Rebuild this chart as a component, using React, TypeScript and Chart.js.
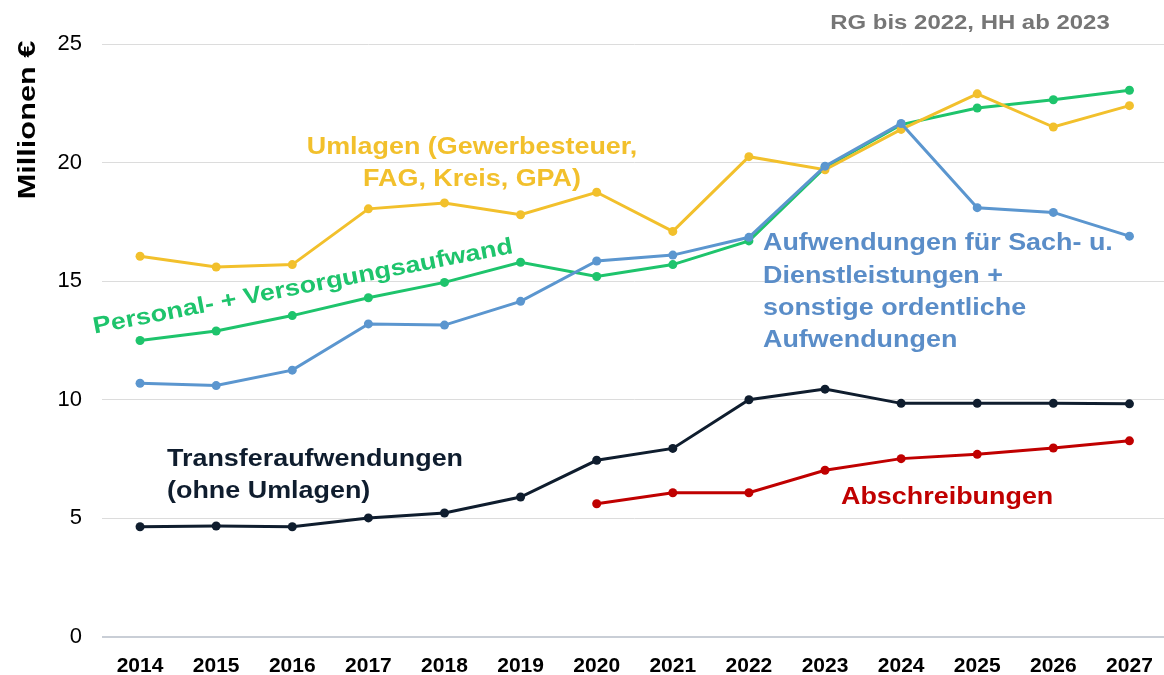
import React, { useEffect, useRef } from "react";
import { Chart, registerables } from "chart.js";

Chart.register(...registerables);

const years = ["2014", "2015", "2016", "2017", "2018", "2019", "2020", "2021", "2022", "2023", "2024", "2025", "2026", "2027"];
const umlagen = [16.05, 15.6, 15.7, 18.05, 18.3, 17.8, 18.75, 17.1, 20.25, 19.7, 21.4, 22.9, 21.5, 22.4];
const personal = [12.5, 12.9, 13.55, 14.3, 14.95, 15.8, 15.2, 15.7, 16.7, 19.8, 21.6, 22.3, 22.65, 23.05];
const sachaufwand = [10.7, 10.6, 11.25, 13.2, 13.15, 14.15, 15.85, 16.1, 16.85, 19.85, 21.65, 18.1, 17.9, 16.9];
const transfer = [4.65, 4.68, 4.65, 5.02, 5.23, 5.9, 7.45, 7.95, 10.0, 10.45, 9.85, 9.85, 9.85, 9.83];
const abschreibungen = [null, null, null, null, null, null, 5.62, 6.08, 6.08, 7.03, 7.52, 7.7, 7.97, 8.27];
const yTicks = [0, 5, 10, 15, 20, 25];

const FONT = "'Liberation Sans', Arial, Helvetica, sans-serif";
const C_YELLOW = "#f2c02c";
const C_GREEN = "#1ec46c";
const C_BLUE = "#5b96cf";
const C_BLUE_TXT = "#5a8dc8";
const C_DARK = "#0f1d2e";
const C_RED = "#c00000";

function stretchText(ctx: any, text: string, x: number, y: number, align: string, sx: number) {
  ctx.save();
  ctx.translate(x, y);
  ctx.scale(sx, 1);
  ctx.textAlign = align;
  ctx.fillText(text, 0, 0);
  ctx.restore();
}

const textPlugin = {
  id: "textPlugin",
  afterDraw(chart: any) {
    const ctx = chart.ctx;
    const SX = 1.17;
    ctx.save();
    ctx.textBaseline = "middle";
    // y-axis title
    ctx.save();
    ctx.translate(28, 120);
    ctx.rotate(-Math.PI / 2);
    ctx.fillStyle = "#000";
    ctx.font = `bold 24px ${FONT}`;
    stretchText(ctx, "Millionen €", 0, 0, "center", 1.28);
    ctx.restore();

    // note
    ctx.fillStyle = "#767676";
    ctx.font = `bold 21px ${FONT}`;
    stretchText(ctx, "RG bis 2022, HH ab 2023", 970, 23, "center", 1.14);

    ctx.font = `bold 23px ${FONT}`;
    // Umlagen
    ctx.fillStyle = C_YELLOW;
    stretchText(ctx, "Umlagen (Gewerbesteuer,", 472, 148, "center", SX);
    stretchText(ctx, "FAG, Kreis, GPA)", 472, 180, "center", SX);

    // Personal rotated
    ctx.save();
    ctx.translate(303, 287);
    ctx.rotate(-10.9 * Math.PI / 180);
    ctx.fillStyle = C_GREEN;
    stretchText(ctx, "Personal- + Versorgungsaufwand", 0, 0, "center", SX);
    ctx.restore();

    // Sachaufwand
    ctx.fillStyle = C_BLUE_TXT;
    stretchText(ctx, "Aufwendungen für Sach- u.", 763, 244, "left", SX);
    stretchText(ctx, "Dienstleistungen +", 763, 277, "left", SX);
    stretchText(ctx, "sonstige ordentliche", 763, 309, "left", SX);
    stretchText(ctx, "Aufwendungen", 763, 341, "left", SX);

    // Transfer
    ctx.fillStyle = C_DARK;
    stretchText(ctx, "Transferaufwendungen", 167, 460, "left", SX);
    stretchText(ctx, "(ohne Umlagen)", 167, 492, "left", SX);

    // Abschreibungen
    ctx.fillStyle = C_RED;
    stretchText(ctx, "Abschreibungen", 841, 498, "left", SX);
    ctx.restore();
  },
};

function ds(label: string, data: (number | null)[], color: string) {
  return {
    label,
    data,
    borderColor: color,
    backgroundColor: color,
    borderWidth: 3,
    pointRadius: 4.5,
    pointHoverRadius: 4.5,
    pointBorderWidth: 0,
    tension: 0,
    spanGaps: false,
  };
}

export default function App() {
  const ref = useRef<HTMLCanvasElement | null>(null);
  useEffect(() => {
    if (!ref.current) return;
    const chart = new Chart(ref.current, {
      type: "line",
      data: {
        labels: years,
        datasets: [
          ds("Abschreibungen", abschreibungen, C_RED),
          ds("Transferaufwendungen (ohne Umlagen)", transfer, C_DARK),
          ds("Aufwendungen für Sach- u. Dienstleistungen + sonstige ordentliche Aufwendungen", sachaufwand, C_BLUE),
          ds("Umlagen (Gewerbesteuer, FAG, Kreis, GPA)", umlagen, C_YELLOW),
          ds("Personal- + Versorgungsaufwand", personal, C_GREEN),
        ],
      },
      options: {
        animation: false,
        responsive: false,
        maintainAspectRatio: false,
        layout: { padding: { top: 44, right: 4, left: 0, bottom: 0 } },
        plugins: { legend: { display: false }, tooltip: { enabled: false }, title: { display: false } },
        scales: {
          x: {
            offset: true,
            grid: { display: false, drawTicks: false },
            border: { display: false },
            ticks: { color: "#000", font: { family: FONT, size: 21, weight: "bold" }, padding: 17, maxRotation: 0 },
            afterFit: (s: any) => { s.height = 38; },
          },
          y: {
            min: 0,
            max: 25,
            afterBuildTicks: (s: any) => { s.ticks = yTicks.map((v) => ({ value: v })); },
            grid: {
              drawTicks: false,
              color: (c: any) => (c.tick && c.tick.value === 0 ? "#c9ced6" : "#dcdcdc"),
              lineWidth: (c: any) => (c.tick && c.tick.value === 0 ? 2 : 1),
            },
            border: { display: false },
            ticks: { color: "#000", font: { family: FONT, size: 22 }, padding: 20 },
            afterFit: (s: any) => { s.width = 102; },
          },
        },
      },
      plugins: [textPlugin],
    });
    return () => chart.destroy();
  }, []);
  return (
    <div style={{ position: "fixed", left: 0, top: 0, width: 1164, height: 675, overflow: "hidden", background: "#fff" }}>
      <canvas ref={ref} width={1172} height={675} style={{ width: 1172, height: 675, display: "block" }} />
    </div>
  );
}
